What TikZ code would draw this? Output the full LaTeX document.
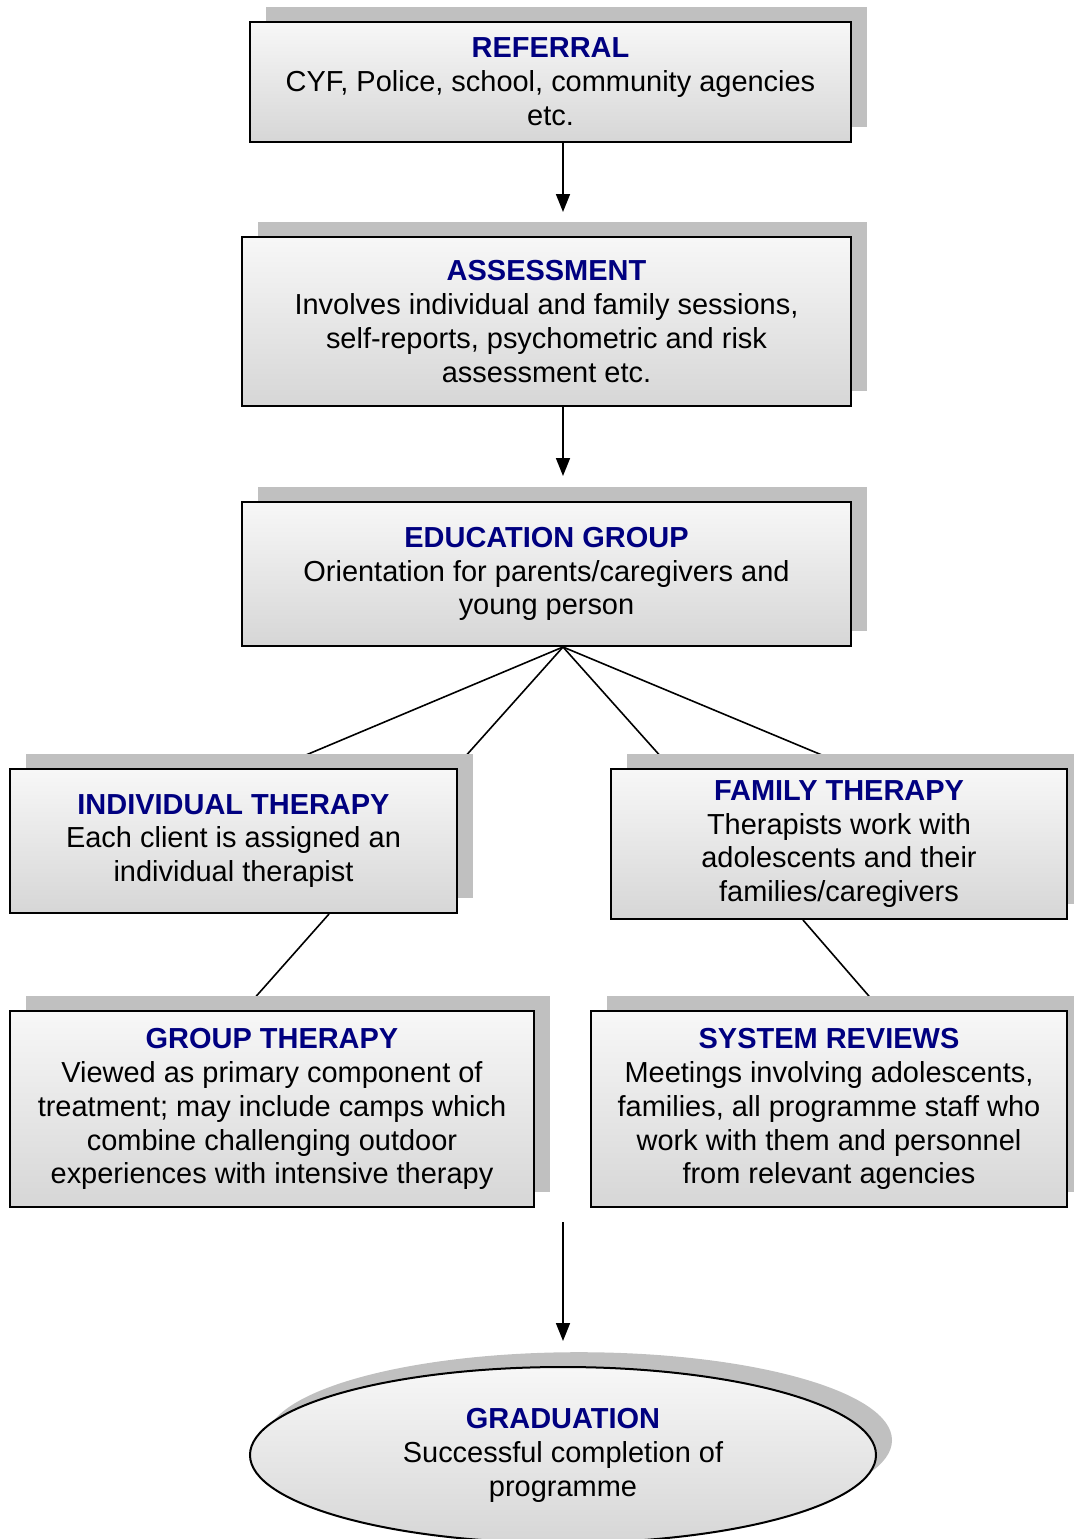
\documentclass[tikz,border=0pt]{standalone}
\usepackage{fontspec}
\setmainfont{Liberation Sans}
\usetikzlibrary{shapes.geometric,shadows,arrows.meta,calc,backgrounds}
\definecolor{navy}{RGB}{0,0,128}
\definecolor{shadowgray}{RGB}{192,192,192}
\newcommand{\stagehead}[1]{\textbf{\textcolor{navy}{#1}}}

\begin{document}
\begin{tikzpicture}[x=0.25mm,y=-0.25mm,
	stage/.style={draw,line width=0.5mm,rectangle,inner sep=0pt,align=center,
		top color=white!97!black,bottom color=black!16,
		font=\fontsize{20.6}{24.1}\selectfont,
		drop shadow={shadow xshift=4mm,shadow yshift=3.7mm,fill=shadowgray,opacity=1}},
	flow/.style={line width=0.4mm,-{Triangle[length=4.5mm,width=3.5mm]}},
	link/.style={line width=0.4mm}]
	\useasboundingbox (0,0) rectangle (1073,1539);
	\coordinate (axis) at (563,0);
	\node[stage,minimum width=150.25mm,minimum height=30mm] (ref) at (550.5,82)
		{\stagehead{REFERRAL}\\CYF, Police, school, community agencies\\etc.};
	\node[stage,minimum width=152.25mm,minimum height=42.25mm] (assess) at (546.5,321.5)
		{\stagehead{ASSESSMENT}\\Involves individual and family sessions,\\self-reports, psychometric and risk\\assessment etc.};
	\node[stage,minimum width=152.25mm,minimum height=36mm] (edu) at (546.5,574)
		{\stagehead{EDUCATION GROUP}\\Orientation for parents/caregivers and\\young person};
	\node[stage,minimum width=111.75mm,minimum height=36mm] (indiv) at (233.5,841)
		{\stagehead{INDIVIDUAL THERAPY}\\Each client is assigned an\\individual therapist};
	\node[stage,minimum width=114mm,minimum height=37.5mm] (family) at (839,844)
		{\stagehead{FAMILY THERAPY}\\Therapists work with\\adolescents and their\\families/caregivers};
	\node[stage,minimum width=131mm,minimum height=49mm] (group) at (272,1109)
		{\stagehead{GROUP THERAPY}\\Viewed as primary component of\\treatment; may include camps which\\combine challenging outdoor\\experiences with intensive therapy};
	\node[stage,minimum width=119mm,minimum height=49mm] (system) at (829,1109)
		{\stagehead{SYSTEM REVIEWS}\\Meetings involving adolescents,\\families, all programme staff who\\work with them and personnel\\from relevant agencies};
	\node[stage,ellipse,minimum width=156.5mm,minimum height=44mm] (grad) at (563,1455)
		{\stagehead{GRADUATION}\\Successful completion of\\programme};
	\coordinate (gradin) at (563,1222);
	\path[flow]
	(ref.south -| axis) edge [shorten >=6mm] (assess.north -| axis)
	(assess.south -| axis) edge [shorten >=6.25mm] (edu.north -| axis)
	(gradin) edge [shorten >=6.25mm] (grad.north);
	\begin{scope}[on background layer]
	\draw[link] (edu.south -| axis) -- ($(indiv.north)+(41.5,0)$);
	\draw[link] (edu.south -| axis) -- ($(indiv.north)+(221.5,0)$);
	\draw[link] (edu.south -| axis) -- ($(family.north)+(-168,0)$);
	\draw[link] (edu.south -| axis) -- ($(family.north)+(14,0)$);
	\draw[link] ($(indiv.south)+(95.5,0)$) -- ($(group.north)+(-28,0)$);
	\draw[link] ($(family.south)+(-36,0)$) -- ($(system.north)+(52,0)$);
	\end{scope}
\end{tikzpicture}
\end{document}
